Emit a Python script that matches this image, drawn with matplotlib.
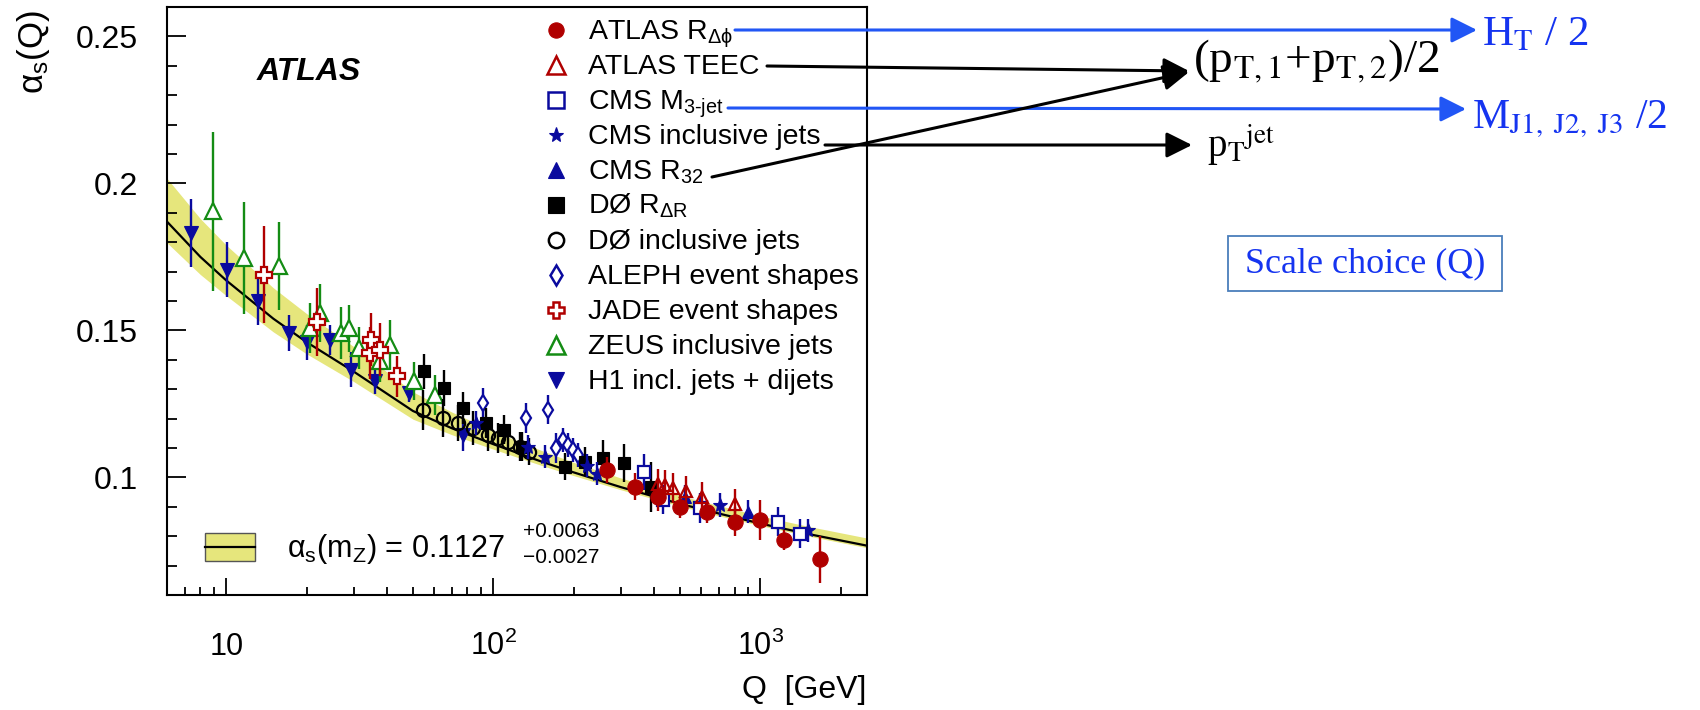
import matplotlib
matplotlib.use("Agg")
import matplotlib.pyplot as plt
from matplotlib.patches import Rectangle, FancyArrowPatch
from matplotlib.ticker import FixedLocator, MultipleLocator, NullFormatter, LogLocator

plt.rcParams["font.family"] = ["Liberation Sans", "DejaVu Sans"]
plt.rcParams["mathtext.fontset"] = "custom"
plt.rcParams["mathtext.rm"] = "Liberation Sans"
plt.rcParams["mathtext.it"] = "Liberation Sans:italic"
plt.rcParams["mathtext.bf"] = "Liberation Sans:bold"

# theory curve + uncertainty band
q_theory = [6, 8, 10, 15, 20, 30, 50, 70, 100, 150, 200, 300, 500, 700, 1000, 1500, 2500]
as_theory = [0.187, 0.175, 0.167, 0.154, 0.146, 0.136, 0.1226, 0.1167, 0.1113, 0.1055,
             0.1017, 0.0967, 0.0910, 0.0877, 0.0843, 0.0808, 0.0768]
as_band_hi = [0.2017, 0.188, 0.179, 0.1645, 0.1557, 0.1445, 0.1291, 0.1222, 0.1158, 0.1093,
              0.1051, 0.0998, 0.0938, 0.0904, 0.0869, 0.0834, 0.0794]
as_band_lo = [0.1798, 0.169, 0.1618, 0.1495, 0.142, 0.1326, 0.1198, 0.1145, 0.1096, 0.1042,
              0.1006, 0.0958, 0.0902, 0.0869, 0.0836, 0.0801, 0.0761]

# measurements
atlas_rdphi_q = [266, 340, 415, 500, 630, 804, 1000, 1223, 1667]
atlas_rdphi_as = [0.1026, 0.0969, 0.0935, 0.0901, 0.0884, 0.0850, 0.0856, 0.0788, 0.0722]
atlas_rdphi_err = [0.0045, 0.0045, 0.005, 0.004, 0.004, 0.005, 0.0068, 0.0034, 0.008]

atlas_teec_q = [415, 440, 472, 527, 603, 804]
atlas_teec_as = [0.0977, 0.0975, 0.0964, 0.0955, 0.0934, 0.0911]
atlas_teec_err = [0.005, 0.005, 0.005, 0.005, 0.005, 0.005]

cms_m3jet_q = [365, 433, 593, 1164, 1402]
cms_m3jet_as = [0.1018, 0.0924, 0.0896, 0.0850, 0.0809]
cms_m3jet_err = [0.006, 0.005, 0.005, 0.005, 0.005]

cms_incl_q = [86.3, 135, 156, 224, 245, 706, 1507]
cms_incl_as = [0.1185, 0.1103, 0.1071, 0.1040, 0.1013, 0.0906, 0.0820]
cms_incl_err = [0.004, 0.004, 0.004, 0.004, 0.004, 0.004, 0.004]

cms_r32_q = [522, 899]
cms_r32_as = [0.0935, 0.0884]
cms_r32_err = [0.004, 0.004]

d0_rdr_q = [54.9, 65.2, 76.9, 93.6, 110, 128, 185, 220, 257, 308, 391]
d0_rdr_as = [0.1361, 0.1304, 0.1236, 0.1185, 0.1162, 0.1105, 0.1037, 0.1054, 0.1066, 0.1049, 0.0969]
d0_rdr_err = [0.006, 0.006, 0.0055, 0.005, 0.005, 0.005, 0.0045, 0.005, 0.006, 0.0065, 0.0085]

d0_incl_q = [54.5, 64.7, 73.6, 83.6, 95.4, 104, 113.6, 125.4, 136.5]
d0_incl_as = [0.1230, 0.1202, 0.1185, 0.1168, 0.1145, 0.1134, 0.1122, 0.1105, 0.1088]
d0_incl_err = [0.0068, 0.0065, 0.006, 0.0058, 0.0055, 0.0052, 0.005, 0.0048, 0.0046]

aleph_q = [91.4, 133, 160, 172, 182, 191, 199, 208]
aleph_as = [0.1253, 0.1202, 0.1230, 0.1100, 0.1128, 0.1111, 0.1094, 0.1077]
aleph_err = [0.005, 0.005, 0.005, 0.005, 0.004, 0.004, 0.004, 0.004]

jade_q = [13.9, 21.9, 34.4, 34.9, 37.8, 43.4]
jade_as = [0.1689, 0.1529, 0.1423, 0.1468, 0.1434, 0.1344]
jade_err = [0.0165, 0.0115, 0.009, 0.009, 0.009, 0.007]

zeus_q = [8.9, 11.7, 15.7, 20.6, 22.5, 27.0, 28.8, 31.4, 37.5, 41.1, 50.5, 60.3]
zeus_as = [0.1905, 0.1746, 0.1718, 0.1508, 0.1559, 0.1491, 0.1508, 0.1440, 0.1395, 0.1451, 0.1327, 0.1281]
zeus_err = [0.027, 0.019, 0.015, 0.0085, 0.010, 0.0088, 0.008, 0.007, 0.007, 0.0085, 0.0065, 0.0068]

h1_q = [7.4, 10.1, 13.2, 17.2, 20.0, 24.4, 29.4, 35.9, 48.3, 76.9]
h1_as = [0.1831, 0.1706, 0.1599, 0.1491, 0.1459, 0.1468, 0.1366, 0.1327, 0.1287, 0.1145]
h1_err = [0.0116, 0.0094, 0.008, 0.006, 0.006, 0.005, 0.006, 0.0042, 0.003, 0.0055]

W, H = 1700, 710
RED = "#b00000"
BLUE = "#0a0a9e"
GREEN = "#148c14"
BAND = "#e6e67c"
ARROW_BLUE = "#2156f5"
TEXT_BLUE = "#1534f0"

# label, x, y, err, marker, color, face, plot size, legend size
series = [
    (r"ATLAS R$_{\mathrm{\Delta\phi}}$", atlas_rdphi_q, atlas_rdphi_as, atlas_rdphi_err, "o", RED, RED, 11, 11),
    ("ATLAS TEEC", atlas_teec_q, atlas_teec_as, atlas_teec_err, "^", RED, "none", 9, 13),
    (r"CMS M$_{\mathrm{3\text{-}jet}}$", cms_m3jet_q, cms_m3jet_as, cms_m3jet_err, "s", BLUE, "white", 9, 11),
    ("CMS inclusive jets", cms_incl_q, cms_incl_as, cms_incl_err, "*", BLUE, BLUE, 10, 11),
    (r"CMS R$_{\mathrm{32}}$", cms_r32_q, cms_r32_as, cms_r32_err, "^", BLUE, BLUE, 8, 12),
    (r"DØ R$_{\mathrm{\Delta R}}$", d0_rdr_q, d0_rdr_as, d0_rdr_err, "s", "black", "black", 8, 11),
    ("DØ inclusive jets", d0_incl_q, d0_incl_as, d0_incl_err, "o", "black", "none", 9.5, 11),
    ("ALEPH event shapes", aleph_q, aleph_as, aleph_err, "d", BLUE, "white", 8, 10),
    ("JADE event shapes", jade_q, jade_as, jade_err, "P", RED, "white", 11, 12),
    ("ZEUS inclusive jets", zeus_q, zeus_as, zeus_err, "^", GREEN, "white", 11.5, 13),
    ("H1 incl. jets + dijets", h1_q, h1_as, h1_err, "v", BLUE, BLUE, 10, 12),
]

fig = plt.figure(figsize=(17, 7.1), dpi=100)
ax = fig.add_axes([167 / W, (H - 595) / H, 699.7 / W, 588 / H])


def ax_x(px):
    return (px - 167) / 699.7


def ax_y(py):
    return (595 - py) / 588


ax.fill_between(q_theory, as_band_lo, as_band_hi, color=BAND, lw=0, zorder=1)
ax.plot(q_theory, as_theory, color="black", lw=1.6, zorder=2)

n = len(series)
for i, (label, q, a, e, mk, col, face, ms, _) in enumerate(series):
    filled = face not in ("none", "white")
    ax.errorbar(q, a, yerr=e, fmt=mk, color=col, mfc=face, mec=col, ms=ms,
                mew=0.8 if filled else 1.6, elinewidth=1.7, capsize=0, zorder=3 + n - i)

ax.set_xscale("log")
ax.set_xlim(6, 2500)
ax.set_ylim(0.06, 0.26)
ax.xaxis.set_major_locator(FixedLocator([10, 100, 1000]))
ax.xaxis.set_minor_locator(LogLocator(base=10, subs=range(2, 10)))
ax.xaxis.set_minor_formatter(NullFormatter())
ax.set_xticklabels(["10", r"$10^{2}$", r"$10^{3}$"])
ax.set_yticks([0.1, 0.15, 0.2, 0.25], ["0.1", "0.15", "0.2", "0.25"])
ax.yaxis.set_minor_locator(MultipleLocator(0.01))

ax.tick_params(which="both", direction="in", top=False, right=False, width=1.3)
ax.tick_params(axis="y", which="major", length=14, labelsize=23, pad=21)
ax.tick_params(axis="y", which="minor", length=7)
ax.tick_params(axis="x", which="major", length=12, labelsize=22, pad=43)
ax.tick_params(axis="x", which="minor", length=6)
for lab in ax.get_xticklabels():
    lab.set_va("baseline")
for sp in ax.spines.values():
    sp.set_linewidth(1.5)

ax.set_xlabel("Q  [GeV]", fontsize=23, loc="right")
ax.xaxis.set_label_coords(1.0, ax_y(698))
ax.xaxis.label.set_va("baseline")
ax.set_ylabel(r"α$_{\mathrm{s}}$(Q)", fontsize=25, loc="top")
ax.yaxis.set_label_coords(ax_x(52), ax_y(10))

ax.text(ax_x(257), ax_y(80), "ATLAS", transform=ax.transAxes, fontsize=23,
        fontweight="bold", fontstyle="italic", va="baseline")

# legend, drawn row by row like the ROOT one
for i, (label, q, a, e, mk, col, face, ms, lms) in enumerate(series):
    yc = ax_y(30 + 35 * i)
    filled = face not in ("none", "white")
    ax.plot([ax_x(556)], [yc], mk, color=col, mfc=face, mec=col, ms=lms,
            mew=0.8 if filled else 1.8, transform=ax.transAxes, clip_on=False, zorder=20)
    ax.text(ax_x(588), ax_y(39 + 35 * i), label, transform=ax.transAxes, fontsize=20.5,
            va="baseline", ha="left", zorder=20)

# fit result box
ax.add_patch(Rectangle((ax_x(205), ax_y(561)), ax_x(255) - ax_x(205), ax_y(533) - ax_y(561),
                       transform=ax.transAxes, facecolor=BAND, edgecolor="#555555", lw=1, zorder=20))
ax.plot([ax_x(205), ax_x(255)], [ax_y(547), ax_y(547)], color="black", lw=1.6,
        transform=ax.transAxes, zorder=21)
ax.text(ax_x(287), ax_y(557), r"α$_{\mathrm{s}}$(m$_{\mathrm{Z}}$) = 0.1127", transform=ax.transAxes,
        fontsize=22, va="baseline")
ax.text(ax_x(523), ax_y(537), "+0.0063", transform=ax.transAxes, fontsize=15, va="baseline")
ax.text(ax_x(523), ax_y(563), "\u22120.0027", transform=ax.transAxes, fontsize=15, va="baseline")


# annotations on the right of the chart
def fpos(px, py):
    return (px / W, 1 - py / H)


arrows = [
    ((735, 30), (1477, 30), ARROW_BLUE),
    ((767, 66), (1189, 71), "black"),
    ((728, 108), (1466, 109), ARROW_BLUE),
    ((825, 145), (1192, 145), "black"),
    ((712, 177), (1189, 72), "black"),
]
for (p0, p1, col) in arrows:
    fig.add_artist(FancyArrowPatch(fpos(*p0), fpos(*p1), transform=fig.transFigure,
                                   arrowstyle="-|>,head_length=0.6,head_width=0.3",
                                   mutation_scale=26, lw=2.2, color=col,
                                   shrinkA=0, shrinkB=0, zorder=30))

serif = dict(family="Liberation Serif", math_fontfamily="stix", va="baseline")
fig.text(*fpos(1482, 45), r"H$_{\mathrm{T}}$ / 2", color=TEXT_BLUE, fontsize=31, **serif)
fig.text(*fpos(1193, 72), r"(p$_{\mathrm{T,1}}$+p$_{\mathrm{T,2}}$)/2", color="black", fontsize=34, **serif)
fig.text(*fpos(1472, 128), r"M$_{\mathrm{J1,\ J2,\ J3}}$ /2", color=TEXT_BLUE, fontsize=30, **serif)
fig.text(*fpos(1207, 157), r"p$_{\mathrm{T}}{}^{\mathrm{jet}}$", color="black", fontsize=28, **serif)

bx0, by0 = fpos(1228, 291)
bx1, by1 = fpos(1502, 236)
fig.add_artist(Rectangle((bx0, by0), bx1 - bx0, by1 - by0, transform=fig.transFigure,
                         facecolor="white", edgecolor="#4a7ebb", lw=1.3))
fig.text((bx0 + bx1) / 2, (by0 + by1) / 2, "Scale choice (Q)", color=TEXT_BLUE, ha="center",
         family="Liberation Serif", fontsize=26, va="center")

fig.savefig("out.png", dpi=100)
